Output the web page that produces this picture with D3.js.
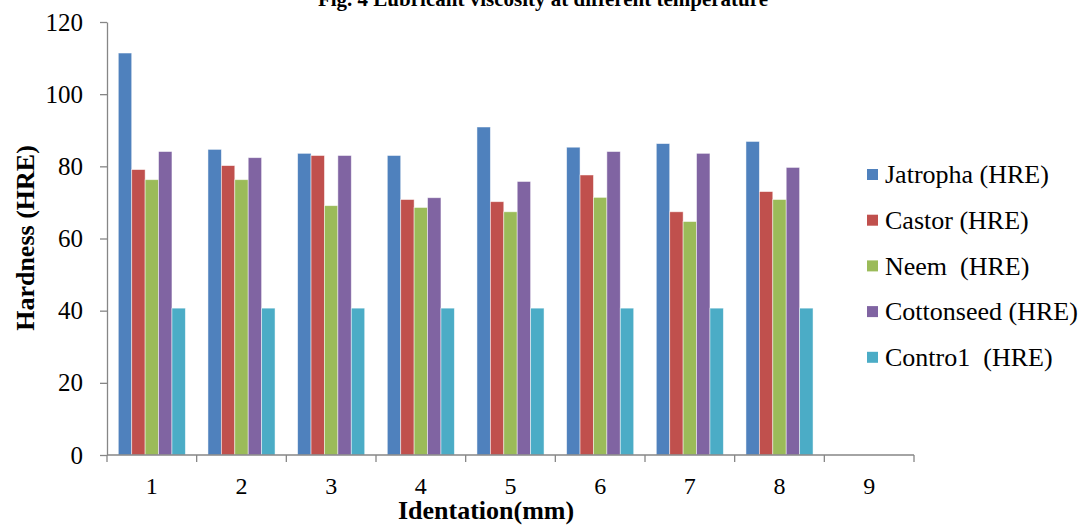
<!DOCTYPE html>
<meta charset="utf-8">
<style>
body { margin: 0; background: #fff; }
svg text { font-family: "Liberation Serif", "Times New Roman", serif; fill: #000; }
.axis path, .axis line { stroke: #868686; stroke-width: 1.3px; }
</style>
<svg id="chart"></svg>
<script src="https://d3js.org/d3.v7.min.js"></script>
<script>

var categories = ["1", "2", "3", "4", "5", "6", "7", "8", "9"];
var seriesNames = ["Jatropha (HRE)", "Castor (HRE)", "Neem  (HRE)", "Cottonseed (HRE)", "Contro1  (HRE)"];
var jatropha   = [111.4, 84.7, 83.6, 83.0, 90.9, 85.3, 86.3, 86.9, null];
var castor     = [79.1, 80.2, 83.0, 70.8, 70.2, 77.6, 67.4, 73.0, null];
var neem       = [76.3, 76.3, 69.1, 68.6, 67.4, 71.4, 64.7, 70.8, null];
var cottonseed = [84.1, 82.4, 83.0, 71.3, 75.8, 84.1, 83.6, 79.7, null];
var control    = [40.7, 40.7, 40.7, 40.7, 40.7, 40.7, 40.7, 40.7, null];
var yTicks = [0, 20, 40, 60, 80, 100, 120];
var colors = ["#4F81BD", "#C0504D", "#9BBB59", "#8064A2", "#4BACC6"];

var seriesValues = [jatropha, castor, neem, cottonseed, control];

var width = 1088,
    height = 527,
    plotLeft = 107, plotRight = 914,
    plotTop = 22, plotBottom = 455;

var svg = d3.select("#chart")
    .attr("width", width)
    .attr("height", height);

var x0 = d3.scaleBand()
    .domain(categories)
    .range([plotLeft, plotRight]);

var gap = x0.bandwidth() * 0.126;

var x1 = d3.scaleBand()
    .domain(d3.range(seriesNames.length))
    .range([gap, x0.bandwidth() - gap]);

var y = d3.scaleLinear()
    .domain([0, 120])
    .range([plotBottom, plotTop]);

// bars
var group = svg.selectAll("g.cat")
    .data(categories)
  .enter().append("g")
    .attr("class", "cat")
    .attr("transform", function(d) { return "translate(" + x0(d) + ",0)"; });

group.selectAll("rect")
    .data(function(d, i) {
      return seriesValues.map(function(s, j) { return { s: j, v: s[i] }; })
        .filter(function(o) { return o.v != null; });
    })
  .enter().append("rect")
    .attr("x", function(d) { return x1(d.s); })
    .attr("width", x1.bandwidth())
    .attr("y", function(d) { return y(d.v); })
    .attr("height", function(d) { return y(0) - y(d.v); })
    .attr("fill", function(d) { return colors[d.s]; })
    .attr("stroke", "rgba(255,255,255,0.6)")
    .attr("stroke-width", 0.8);

// y axis
var yAxis = svg.append("g")
    .attr("class", "axis")
    .attr("transform", "translate(" + plotLeft + ",0)")
    .call(d3.axisLeft(y).tickValues(yTicks).tickSize(7).tickSizeOuter(0).tickPadding(17));
yAxis.selectAll("text").style("font-size", "25px");

// x axis with ticks at band boundaries
var xAxis = svg.append("g")
    .attr("class", "axis")
    .attr("transform", "translate(0," + plotBottom + ")");
xAxis.append("line")
    .attr("x1", plotLeft).attr("x2", plotRight);
xAxis.selectAll("line.tk")
    .data(categories.concat(["end"]))
  .enter().append("line")
    .attr("class", "tk")
    .attr("x1", function(d, i) { return plotLeft + i * x0.bandwidth(); })
    .attr("x2", function(d, i) { return plotLeft + i * x0.bandwidth(); })
    .attr("y1", 0).attr("y2", 7);
xAxis.selectAll("text")
    .data(categories)
  .enter().append("text")
    .attr("x", function(d) { return x0(d) + x0.bandwidth() / 2; })
    .attr("y", 39)
    .attr("text-anchor", "middle")
    .style("font-size", "24px")
    .text(function(d) { return d; });

// axis titles
svg.append("text")
    .attr("transform", "translate(34,238) rotate(-90)")
    .attr("text-anchor", "middle")
    .style("font-size", "26px")
    .style("font-weight", "bold")
    .text("Hardness (HRE)");

svg.append("text")
    .attr("x", 486)
    .attr("y", 519)
    .attr("text-anchor", "middle")
    .style("font-size", "26px")
    .style("font-weight", "bold")
    .text("Identation(mm)");

// title, cut off at top
svg.append("text")
    .attr("x", 543)
    .attr("y", 6)
    .attr("text-anchor", "middle")
    .style("font-size", "21px")
    .style("font-weight", "bold")
    .text("Fig. 4 Lubricant viscosity at different temperature");

// legend
var legend = svg.selectAll("g.leg")
    .data(seriesNames)
  .enter().append("g")
    .attr("class", "leg")
    .attr("transform", function(d, i) { return "translate(867," + (174 + i * 45.7) + ")"; });

legend.append("rect")
    .attr("x", 0).attr("y", -5)
    .attr("width", 11).attr("height", 11)
    .attr("fill", function(d, i) { return colors[i]; });

legend.append("text")
    .attr("x", 18)
    .attr("dy", "0.35em")
    .style("font-size", "26px")
    .style("white-space", "pre")
    .text(function(d) { return d; });

</script>
